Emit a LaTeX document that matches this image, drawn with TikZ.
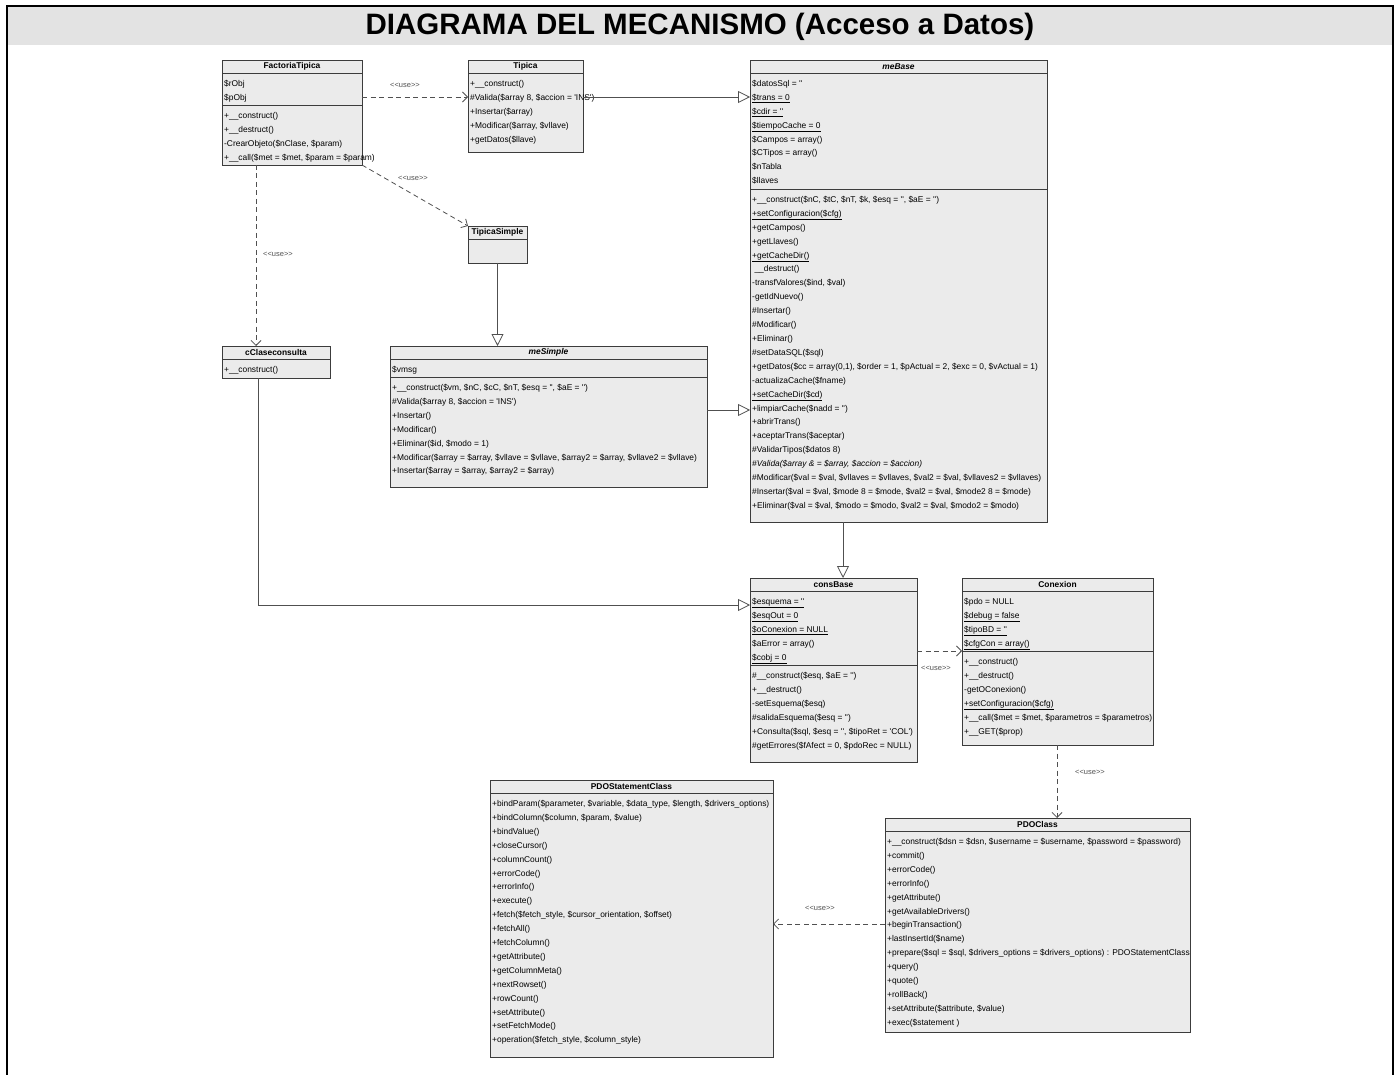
\documentclass[tikz,border=0pt]{standalone}
\usepackage{fontspec}
\newfontfamily\umlfont{Liberation Sans}[Ligatures=TeXOff]
\usetikzlibrary{arrows.meta}

\definecolor{boxfill}{HTML}{EBEBEB}
\definecolor{boxline}{HTML}{3C3C3C}
\definecolor{conn}{HTML}{505050}
\definecolor{band}{HTML}{E3E3E3}

% one text row per list item, 13.9pt apart, first baseline at #3
\newcommand\umlrows[4]{%
  \foreach \rowtext [count=\rowno] in {#4}{%
    \node[row] (#1-\rowno) at (#2,{#3+(\rowno-1)*13.9}) {\rowtext};}}

\tikzset{
  cls/.style={draw=boxline, fill=boxfill, line width=0.8pt, anchor=north west,
              inner sep=0pt, outer sep=0pt},
  hdr/.style={font=\umlfont\bfseries\fontsize{8.4}{10}\selectfont, inner sep=0pt},
  row/.style={anchor=base west, inner sep=0pt,
              font=\umlfont\fontsize{8.4}{10}\selectfont},
  sep/.style={draw=boxline, line width=0.8pt},
  dep/.style={draw=conn, line width=0.8pt, dash pattern=on 5pt off 3.5pt,
              -{Straight Barb[length=5pt,width=10pt]}},
  gen/.style={draw=conn, line width=0.8pt,
              -{Triangle[fill=white,length=12pt,width=12pt]}},
  lbl/.style={font=\umlfont\fontsize{7.5}{9}\selectfont, text=conn, inner sep=0pt}
}

\begin{document}
\begin{tikzpicture}[x=1pt,y=-1pt]
\useasboundingbox (0,0) rectangle (1400,1075);

% frame and title band
\fill[band] (7,6) rectangle (1393,45);
\draw[line width=2.6pt] (7,1090) -- (7,6) -- (1393,6) -- (1393,1090);
\node[font=\umlfont\bfseries\fontsize{29.5}{32}\selectfont, inner sep=0pt] (title)
  at (700,27) {DIAGRAMA DEL MECANISMO (Acceso a Datos)};

% ---------------- FactoriaTipica
\node[cls, minimum width=140pt, minimum height=105pt] (fact) at (222,60) {};
\node[hdr] (fact-h) at (fact.north |- 0,66.5) {FactoriaTipica};
\draw[sep] (fact.west |- 0,73) -- (fact.east |- 0,73);
\draw[sep] (fact.west |- 0,105) -- (fact.east |- 0,105);
\umlrows{fact-a}{224}{86.5}{{\$rObj},{\$pObj}}
\umlrows{fact-m}{224}{119}{{+\_\_construct()},{+\_\_destruct()},
  {-CrearObjeto(\$nClase, \$param)},{+\_\_call(\$met = \$met, \$param = \$param)}}

% ---------------- Tipica
\node[cls, minimum width=115pt, minimum height=92pt] (tip) at (468,60) {};
\node[hdr] (tip-h) at (tip.north |- 0,66.5) {Tipica};
\draw[sep] (tip.west |- 0,73) -- (tip.east |- 0,73);
\umlrows{tip-m}{470}{86.5}{{+\_\_construct()},{\#Valida(\$array 8, \$accion = 'INS')},
  {+Insertar(\$array)},{+Modificar(\$array, \$vllave)},{+getDatos(\$llave)}}

% ---------------- meBase
\node[cls, minimum width=297pt, minimum height=462pt] (mebase) at (750,60) {};
\node[hdr] (mebase-h) at (mebase.north |- 0,66.5) {\textit{meBase}};
\draw[sep] (mebase.west |- 0,73) -- (mebase.east |- 0,73);
\draw[sep] (mebase.west |- 0,189) -- (mebase.east |- 0,189);
\umlrows{mebase-a}{752}{86.5}{{\$datosSql = ''},{\underline{\$trans = 0}},
  {\underline{\$cdir = ''}},{\underline{\$tiempoCache = 0}},{\$Campos = array()},
  {\$CTipos = array()},{\$nTabla},{\$llaves}}
\umlrows{mebase-m}{752}{202.5}{%
  {+\_\_construct(\$nC, \$tC, \$nT, \$k, \$esq = '', \$aE = '')},
  {\underline{+setConfiguracion(\$cfg)}},
  {+getCampos()},
  {+getLlaves()},
  {\underline{+getCacheDir()}},
  {\ \_\_destruct()},
  {-transfValores(\$ind, \$val)},
  {-getIdNuevo()},
  {\#Insertar()},
  {\#Modificar()},
  {+Eliminar()},
  {\#setDataSQL(\$sql)},
  {+getDatos(\$cc = array(0,1), \$order = 1, \$pActual = 2, \$exc = 0, \$vActual = 1)},
  {-actualizaCache(\$fname)},
  {\underline{+setCacheDir(\$cd)}},
  {+limpiarCache(\$nadd = '')},
  {+abrirTrans()},
  {+aceptarTrans(\$aceptar)},
  {\#ValidarTipos(\$datos 8)},
  {\textit{\#Valida(\$array \& = \$array, \$accion = \$accion)}},
  {\#Modificar(\$val = \$val, \$vllaves = \$vllaves, \$val2 = \$val, \$vllaves2 = \$vllaves)},
  {\#Insertar(\$val = \$val, \$mode 8 = \$mode, \$val2 = \$val, \$mode2 8 = \$mode)},
  {+Eliminar(\$val = \$val, \$modo = \$modo, \$val2 = \$val, \$modo2 = \$modo)}}

% ---------------- TipicaSimple
\node[cls, minimum width=59pt, minimum height=37pt] (tsimple) at (468,226) {};
\node[hdr] (tsimple-h) at (tsimple.north |- 0,232.5) {TipicaSimple};
\draw[sep] (tsimple.west |- 0,239) -- (tsimple.east |- 0,239);

% ---------------- meSimple
\node[cls, minimum width=317pt, minimum height=141pt] (mesimple) at (390,346) {};
\node[hdr] (mesimple-h) at (mesimple.north |- 0,352.5) {\textit{meSimple}};
\draw[sep] (mesimple.west |- 0,359) -- (mesimple.east |- 0,359);
\draw[sep] (mesimple.west |- 0,377) -- (mesimple.east |- 0,377);
\umlrows{mesimple-a}{392}{372}{{\$vmsg}}
\umlrows{mesimple-m}{392}{390.5}{%
  {+\_\_construct(\$vm, \$nC, \$cC, \$nT, \$esq = '', \$aE = '')},
  {\#Valida(\$array 8, \$accion = 'INS')},
  {+Insertar()},
  {+Modificar()},
  {+Eliminar(\$id, \$modo = 1)},
  {+Modificar(\$array = \$array, \$vllave = \$vllave, \$array2 = \$array, \$vllave2 = \$vllave)},
  {+Insertar(\$array = \$array, \$array2 = \$array)}}

% ---------------- cClaseconsulta
\node[cls, minimum width=108pt, minimum height=32pt] (ccc) at (222,346) {};
\node[hdr] (ccc-h) at (ccc.north |- 0,352.5) {cClaseconsulta};
\draw[sep] (ccc.west |- 0,359) -- (ccc.east |- 0,359);
\umlrows{ccc-m}{224}{372.5}{{+\_\_construct()}}

% ---------------- consBase
\node[cls, minimum width=167pt, minimum height=184pt] (cons) at (750,578) {};
\node[hdr] (cons-h) at (cons.north |- 0,584.5) {consBase};
\draw[sep] (cons.west |- 0,591) -- (cons.east |- 0,591);
\draw[sep] (cons.west |- 0,665) -- (cons.east |- 0,665);
\umlrows{cons-a}{752}{604.5}{{\underline{\$esquema = ''}},{\underline{\$esqOut = 0}},
  {\underline{\$oConexion = NULL}},{\$aError = array()},{\underline{\$cobj = 0}}}
\umlrows{cons-m}{752}{678.5}{%
  {\#\_\_construct(\$esq, \$aE = '')},
  {+\_\_destruct()},
  {-setEsquema(\$esq)},
  {\#salidaEsquema(\$esq = '')},
  {+Consulta(\$sql, \$esq = '', \$tipoRet = 'COL')},
  {\#getErrores(\$fAfect = 0, \$pdoRec = NULL)}}

% ---------------- Conexion
\node[cls, minimum width=191pt, minimum height=167pt] (conx) at (962,578) {};
\node[hdr] (conx-h) at (conx.north |- 0,584.5) {Conexion};
\draw[sep] (conx.west |- 0,591) -- (conx.east |- 0,591);
\draw[sep] (conx.west |- 0,651) -- (conx.east |- 0,651);
\umlrows{conx-a}{964}{604.5}{{\$pdo = NULL},{\underline{\$debug = false}},
  {\underline{\$tipoBD = ''}},{\underline{\$cfgCon = array()}}}
\umlrows{conx-m}{964}{664.5}{%
  {+\_\_construct()},
  {+\_\_destruct()},
  {-getOConexion()},
  {\underline{+setConfiguracion(\$cfg)}},
  {+\_\_call(\$met = \$met, \$parametros = \$parametros)},
  {+\_\_GET(\$prop)}}

% ---------------- PDOClass
\node[cls, minimum width=305pt, minimum height=214pt] (pdo) at (885,818) {};
\node[hdr] (pdo-h) at (pdo.north |- 0,824.5) {PDOClass};
\draw[sep] (pdo.west |- 0,831) -- (pdo.east |- 0,831);
\umlrows{pdo-m}{887}{844.5}{%
  {+\_\_construct(\$dsn = \$dsn, \$username = \$username, \$password = \$password)},
  {+commit()},
  {+errorCode()},
  {+errorInfo()},
  {+getAttribute()},
  {+getAvailableDrivers()},
  {+beginTransaction()},
  {+lastInsertId(\$name)},
  {+prepare(\$sql = \$sql, \$drivers\_options = \$drivers\_options) : PDOStatementClass},
  {+query()},
  {+quote()},
  {+rollBack()},
  {+setAttribute(\$attribute, \$value)},
  {+exec(\$statement )}}

% ---------------- PDOStatementClass
\node[cls, minimum width=283pt, minimum height=277pt] (pdos) at (490,780) {};
\node[hdr] (pdos-h) at (pdos.north |- 0,786.5) {PDOStatementClass};
\draw[sep] (pdos.west |- 0,793) -- (pdos.east |- 0,793);
\umlrows{pdos-m}{492}{806.5}{%
  {+bindParam(\$parameter, \$variable, \$data\_type, \$length, \$drivers\_options)},
  {+bindColumn(\$column, \$param, \$value)},
  {+bindValue()},
  {+closeCursor()},
  {+columnCount()},
  {+errorCode()},
  {+errorInfo()},
  {+execute()},
  {+fetch(\$fetch\_style, \$cursor\_orientation, \$offset)},
  {+fetchAll()},
  {+fetchColumn()},
  {+getAttribute()},
  {+getColumnMeta()},
  {+nextRowset()},
  {+rowCount()},
  {+setAttribute()},
  {+setFetchMode()},
  {+operation(\$fetch\_style, \$column\_style)}}

% ---------------- connectors
\draw[dep] (fact.east |- 0,97) -- (tip.west |- 0,97);
\node[lbl] (use1) at (405,85) {<<use>>};
\draw[gen] (tip.east |- 0,97) -- (mebase.west |- 0,97);
\draw[dep] (fact.south east) -- (tsimple.north west);
\node[lbl] (use2) at (413,178) {<<use>>};
\draw[dep] (fact.south -| 256,0) -- (ccc.north -| 256,0);
\node[lbl] (use3) at (278,254) {<<use>>};
\draw[gen] (tsimple.south) -- (mesimple.north -| tsimple.south);
\draw[gen] (mesimple.east |- 0,410) -- (mebase.west |- 0,410);
\draw[gen] (mebase.south -| 843,0) -- (cons.north -| 843,0);
\draw[gen] (ccc.south -| 258,0) |- (cons.west |- 0,605);
\draw[dep] (cons.east |- 0,651) -- (conx.west |- 0,651);
\node[lbl] (use4) at (936,668) {<<use>>};
\draw[dep] (conx.south -| 1057,0) -- (pdo.north -| 1057,0);
\node[lbl] (use5) at (1090,772) {<<use>>};
\draw[dep] (pdo.west |- 0,924) -- (pdos.east |- 0,924);
\node[lbl] (use6) at (820,908) {<<use>>};
\end{tikzpicture}
\end{document}
